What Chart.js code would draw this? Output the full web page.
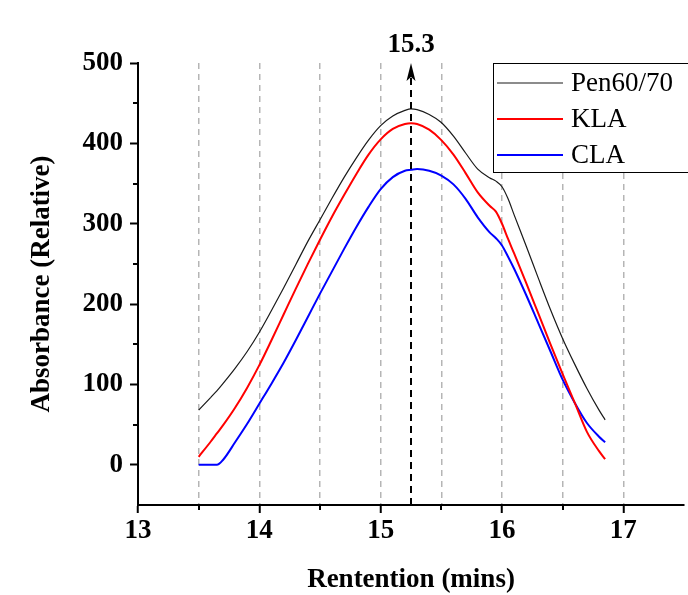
<!DOCTYPE html>
<html>
<head>
<meta charset="utf-8">
<title>GPC absorbance</title>
<script src="https://cdn.jsdelivr.net/npm/chart.js@4.4.1/dist/chart.umd.min.js"></script>
<style>
  html, body { margin: 0; padding: 0; background: #ffffff; }
  #wrap { width: 688px; height: 595px; position: relative; }
</style>
</head>
<body>
<div id="wrap"><canvas id="gpc"></canvas></div>
<script>
// Retention times (mins) shared by all three traces
const retentionTimes = [
  13.5, 13.6, 13.65, 13.7, 13.8, 13.9, 14.0, 14.1, 14.2, 14.3, 14.4, 14.5, 14.6,
  14.7, 14.8, 14.9, 15.0, 15.1, 15.2, 15.25, 15.3, 15.4, 15.5, 15.6, 15.7, 15.8,
  15.9, 15.95, 16.0, 16.05, 16.1, 16.2, 16.3, 16.4, 16.5, 16.6, 16.7, 16.8, 16.85
];

// Relative absorbance of each binder
const pen6070 = [
  68, 84, 92, 101, 120, 141, 165, 192, 220, 249, 278, 305, 332,
  358, 382, 404, 422, 434, 441, 443, 442, 436, 426, 409, 388, 368,
  357, 353, 346, 331, 311, 272, 232, 193, 157, 125, 95, 68, 56
];
const kla = [
  10, 29, 39, 49, 71, 96, 124, 155, 187, 219, 250, 280, 309,
  336, 362, 386, 405, 418, 424, 425, 424, 417, 404, 386, 363, 339,
  322, 315, 300, 281, 263, 226, 188, 150, 113, 77, 41, 17, 7
];
const cla = [
  0, 0, 0, 6, 28, 51, 76, 101, 127, 155, 184, 213, 241,
  269, 296, 321, 343, 358, 366, 367, 368, 366, 360, 349, 331, 308,
  289, 282, 273, 259, 244, 211, 176, 141, 106, 77, 52, 35, 28
];

const seriesNames = ['Pen60/70', 'KLA', 'CLA'];
const xTickLabels = [13, 14, 15, 16, 17];
const yTickLabels = [0, 100, 200, 300, 400, 500];

// Peak retention time marked with the dashed arrow
const peakTime = 15.25;

const SERIF = '"Liberation Serif", "Times New Roman", serif';
const tickFont = { family: SERIF, size: 27, weight: 'bold' };

function toPoints(values) {
  return values.map((v, i) => ({ x: retentionTimes[i], y: v }));
}

// Short minor tick marks at the half steps
const minorTicks = {
  id: 'minorTicks',
  afterDraw(chart) {
    const { ctx, scales: { x, y } } = chart;
    ctx.save();
    ctx.strokeStyle = '#000';
    ctx.lineWidth = 2;
    ctx.beginPath();
    for (let t = 13.5; t < 17.5; t += 1) {
      const px = Math.round(x.getPixelForValue(t));
      ctx.moveTo(px, y.bottom);
      ctx.lineTo(px, y.bottom + 5);
    }
    for (let v = 50; v < 500; v += 100) {
      const py = Math.round(y.getPixelForValue(v));
      ctx.moveTo(x.left - 5, py);
      ctx.lineTo(x.left, py);
    }
    ctx.stroke();
    ctx.restore();
  }
};

// Dashed arrow at the peak with its time above
const peakArrow = {
  id: 'peakArrow',
  afterDatasetsDraw(chart) {
    const { ctx, scales: { x, y } } = chart;
    const px = x.getPixelForValue(peakTime);
    const top = y.getPixelForValue(y.max);
    const bottom = y.getPixelForValue(y.min);
    ctx.save();
    ctx.strokeStyle = '#000';
    ctx.lineWidth = 2;
    ctx.setLineDash([7, 5]);
    ctx.beginPath();
    ctx.moveTo(px, bottom);
    ctx.lineTo(px, top + 14);
    ctx.stroke();
    ctx.setLineDash([]);
    ctx.fillStyle = '#000';
    ctx.beginPath();
    ctx.moveTo(px, top);
    ctx.lineTo(px - 4.5, top + 18);
    ctx.lineTo(px, top + 14);
    ctx.lineTo(px + 4.5, top + 18);
    ctx.closePath();
    ctx.fill();
    ctx.font = 'bold 27px ' + SERIF;
    ctx.textAlign = 'center';
    ctx.textBaseline = 'alphabetic';
    ctx.fillText(peakTime.toFixed(1), px, top - 11);
    ctx.restore();
  }
};

// Boxed legend in the top right corner
const boxLegend = {
  id: 'boxLegend',
  afterDraw(chart) {
    const { ctx } = chart;
    const left = 493.5, top = 63.5, height = 109;
    ctx.save();
    ctx.fillStyle = '#fff';
    ctx.fillRect(left, top, 220, height);
    ctx.strokeStyle = '#000';
    ctx.lineWidth = 1;
    ctx.strokeRect(left, top, 220, height);
    ctx.font = '27px ' + SERIF;
    ctx.textAlign = 'left';
    ctx.textBaseline = 'middle';
    chart.data.datasets.forEach((ds, i) => {
      const cy = 83 + i * 36;
      ctx.strokeStyle = ds.borderColor;
      ctx.lineWidth = ds.borderWidth;
      ctx.beginPath();
      ctx.moveTo(497, cy);
      ctx.lineTo(563, cy);
      ctx.stroke();
      ctx.fillStyle = '#000';
      ctx.fillText(ds.label, 571, cy + 1);
    });
    ctx.restore();
  }
};

const isInnerGrid = (v) => v > 13 && v < 17.5;

new Chart(document.getElementById('gpc'), {
  type: 'line',
  data: {
    datasets: [
      { label: seriesNames[0], data: toPoints(pen6070), borderColor: '#1a1a1a', borderWidth: 1.2 },
      { label: seriesNames[1], data: toPoints(kla), borderColor: '#ff0000', borderWidth: 2 },
      { label: seriesNames[2], data: toPoints(cla), borderColor: '#0000ff', borderWidth: 2 }
    ]
  },
  options: {
    responsive: true,
    maintainAspectRatio: false,
    devicePixelRatio: 1,
    animation: false,
    layout: { padding: { top: 63, right: 4, bottom: 0, left: 0 } },
    elements: {
      point: { radius: 0 },
      line: { cubicInterpolationMode: 'monotone', fill: false }
    },
    plugins: {
      legend: { display: false },
      tooltip: { enabled: false }
    },
    scales: {
      x: {
        type: 'linear',
        min: 13,
        max: 17.5,
        ticks: {
          stepSize: 0.5,
          autoSkip: false,
          maxRotation: 0,
          padding: 2,
          color: '#000',
          font: tickFont,
          callback: (v) => xTickLabels.includes(v) ? String(v) : ''
        },
        grid: {
          color: (c) => (c.tick && isInnerGrid(c.tick.value)) ? '#b5b5b5' : 'rgba(0,0,0,0)',
          lineWidth: 1.5,
          tickColor: (c) => (c.tick && xTickLabels.includes(c.tick.value)) ? '#000' : 'rgba(0,0,0,0)',
          tickLength: 8,
          tickWidth: 2,
          tickBorderDash: []
        },
        border: { color: '#000', width: 2, dash: [6, 5] },
        title: {
          display: true,
          text: 'Rentention (mins)',
          color: '#000',
          font: { family: SERIF, size: 27, weight: 'bold', lineHeight: 1.1 },
          padding: { top: 2, bottom: 0 }
        },
        afterFit: (s) => { s.height = 90; }
      },
      y: {
        min: -50,
        max: 500,
        ticks: {
          stepSize: 50,
          padding: 7,
          color: '#000',
          font: tickFont,
          callback: (v) => yTickLabels.includes(v) ? String(v) : ''
        },
        grid: {
          drawOnChartArea: false,
          tickColor: (c) => (c.tick && yTickLabels.includes(c.tick.value)) ? '#000' : 'rgba(0,0,0,0)',
          tickLength: 8,
          tickWidth: 2
        },
        border: { color: '#000', width: 2 },
        title: {
          display: true,
          text: 'Absorbance (Relative)',
          color: '#000',
          font: { family: SERIF, size: 27, weight: 'bold', lineHeight: 1.1 },
          padding: { top: 27, bottom: 0 }
        },
        afterFit: (s) => { s.width = 138; }
      }
    }
  },
  plugins: [minorTicks, peakArrow, boxLegend]
});
</script>
</body>
</html>
